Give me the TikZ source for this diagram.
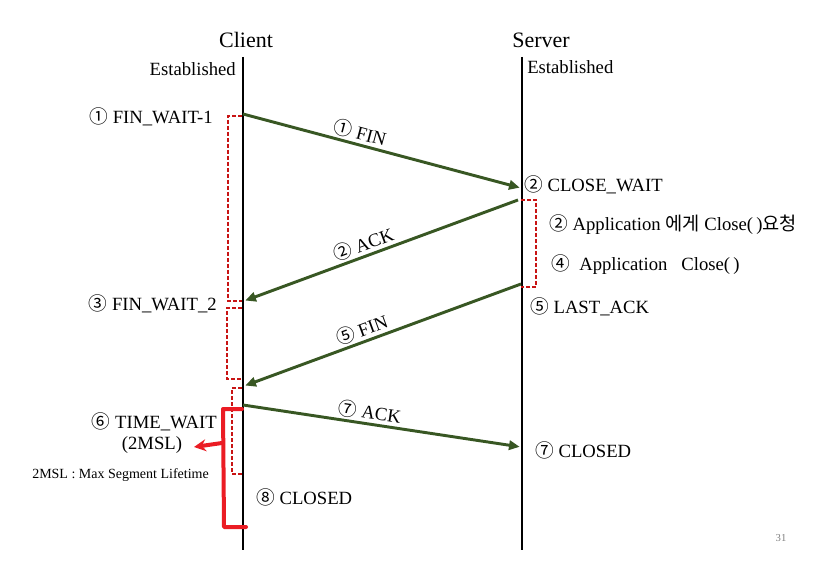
\documentclass[tikz,border=0pt]{standalone}
\usepackage{fontspec}
\setmainfont{Liberation Serif}
\newfontfamily\kr{Noto Sans CJK KR}
\usetikzlibrary{arrows.meta}
\definecolor{msggreen}{RGB}{56,87,35}
\definecolor{dashred}{RGB}{200,20,20}
\definecolor{brightred}{RGB}{235,28,36}
\newcommand{\cnum}[1]{{\kr\fontsize{14pt}{14pt}\selectfont #1}}
\tikzset{
  lifeline/.style={line width=2.2pt,black},
  msg/.style={line width=2.2pt,msggreen,-{Triangle[length=8pt,width=7pt]},shorten >=1pt},
  msglabel/.style={font=\fontsize{14pt}{14pt}\selectfont,inner sep=0pt,sloped,above=1.5pt,text=black},
  state/.style={font=\fontsize{14pt}{14pt}\selectfont,inner sep=0pt},
  hdr/.style={font=\fontsize{16.5pt}{16.5pt}\selectfont,inner sep=0pt},
  estab/.style={font=\fontsize{14pt}{14pt}\selectfont,inner sep=0pt},
  bracket/.style={dashred,line width=1pt,dash pattern=on 3pt off 1.5pt},
  timewait/.style={brightred,line width=3pt,line cap=round,line join=round},
}
\begin{document}
\begin{tikzpicture}[x=0.75pt,y=-0.75pt]
\useasboundingbox (0,0) rectangle (827,566);
% headers
\node[hdr] (client) at (246,40) {Client};
\node[hdr] (server) at (541,40) {Server};
\node[estab,anchor=east] (estC) at (236,69) {Established};
\node[estab,anchor=west] (estS) at (527,67) {Established};
% lifelines
\coordinate (ctop) at (243,57);
\coordinate (cbot) at (243,550);
\coordinate (stop) at (522,57);
\coordinate (sbot) at (522,550);
\draw[lifeline] (ctop) -- (cbot);
\draw[lifeline] (stop) -- (sbot);
% message endpoints
\coordinate (m1s) at (243,114);
\coordinate (m1e) at (521,188);
\coordinate (m2s) at (518,200);
\coordinate (m2e) at (244,301);
\coordinate (m3s) at (521,284);
\coordinate (m3e) at (244,386);
\coordinate (m4s) at (243,405);
\coordinate (m4e) at (521,447);
\draw[msg] (m1s) -- node[msglabel,pos=0.41] (l1) {\cnum{①} FIN} (m1e);
\draw[msg] (m2s) -- node[msglabel,pos=0.55] (l2) {\cnum{②} ACK} (m2e);
\draw[msg] (m3s) -- node[msglabel,pos=0.56] (l3) {\cnum{⑤} FIN} (m3e);
\draw[msg] (m4s) -- node[msglabel,pos=0.45] (l4) {\cnum{⑦} ACK} (m4e);
% client states
\node[state,anchor=east] (s1) at (213,117) {\cnum{①} FIN\_WAIT-1};
\node[state,anchor=east] (s3) at (217,304) {\cnum{③} FIN\_WAIT\_2};
\node[state,anchor=east] (s6) at (217,422) {\cnum{⑥} TIME\_WAIT};
\node[state] (s6b) at (152,445) {(2MSL)};
\node[font=\fontsize{10.5pt}{10.5pt}\selectfont,inner sep=0pt,anchor=west] (msl) at (32,475) {2MSL : Max Segment Lifetime};
\node[state,anchor=west] (s8) at (256,497) {\cnum{⑧} CLOSED};
% server states
\node[state,anchor=west] (s2) at (524,185) {\cnum{②} CLOSE\_WAIT};
\node[state,anchor=west] (a2) at (549,225) {\cnum{②} Application {\kr\fontsize{14pt}{14pt}\selectfont 에게} Close(\,)\kr\fontsize{14pt}{14pt}\selectfont 요청};
\node[state,anchor=west] (a4) at (551,265) {\cnum{④}\ \ Application\ \ \ Close(\,)};
\node[state,anchor=west] (s5) at (530,307) {\cnum{⑤} LAST\_ACK};
\node[state,anchor=west] (s7) at (535,450) {\cnum{⑦} CLOSED};
% page number
\node[font=\fontsize{8pt}{8pt}\selectfont,text=gray,inner sep=0pt] (pg) at (781,538) {31};
% dashed brackets
\draw[bracket] (242,116) -- (228,116) -- (228,301) -- (242,301);
\draw[bracket] (242,308) -- (227,308) -- (227,379) -- (242,379);
\draw[bracket] (242,388) -- (232,388) -- (232,474) -- (242,474);
\draw[bracket] (521,200) -- (536,200) -- (536,287) -- (521,287);
% TIME_WAIT bracket
\coordinate (tw1) at (242,409);
\coordinate (tw2) at (223,409);
\coordinate (tw3) at (224,527);
\coordinate (tw4) at (246,527);
\coordinate (twm) at (222,443);
\coordinate (twa) at (194,447);
\draw[timewait] (tw1) -- (tw2) -- (tw3) -- (tw4);
\draw[timewait,-{Stealth[length=9pt,width=9pt,inset=3pt]}] (twm) -- (twa);
\end{tikzpicture}
\end{document}
